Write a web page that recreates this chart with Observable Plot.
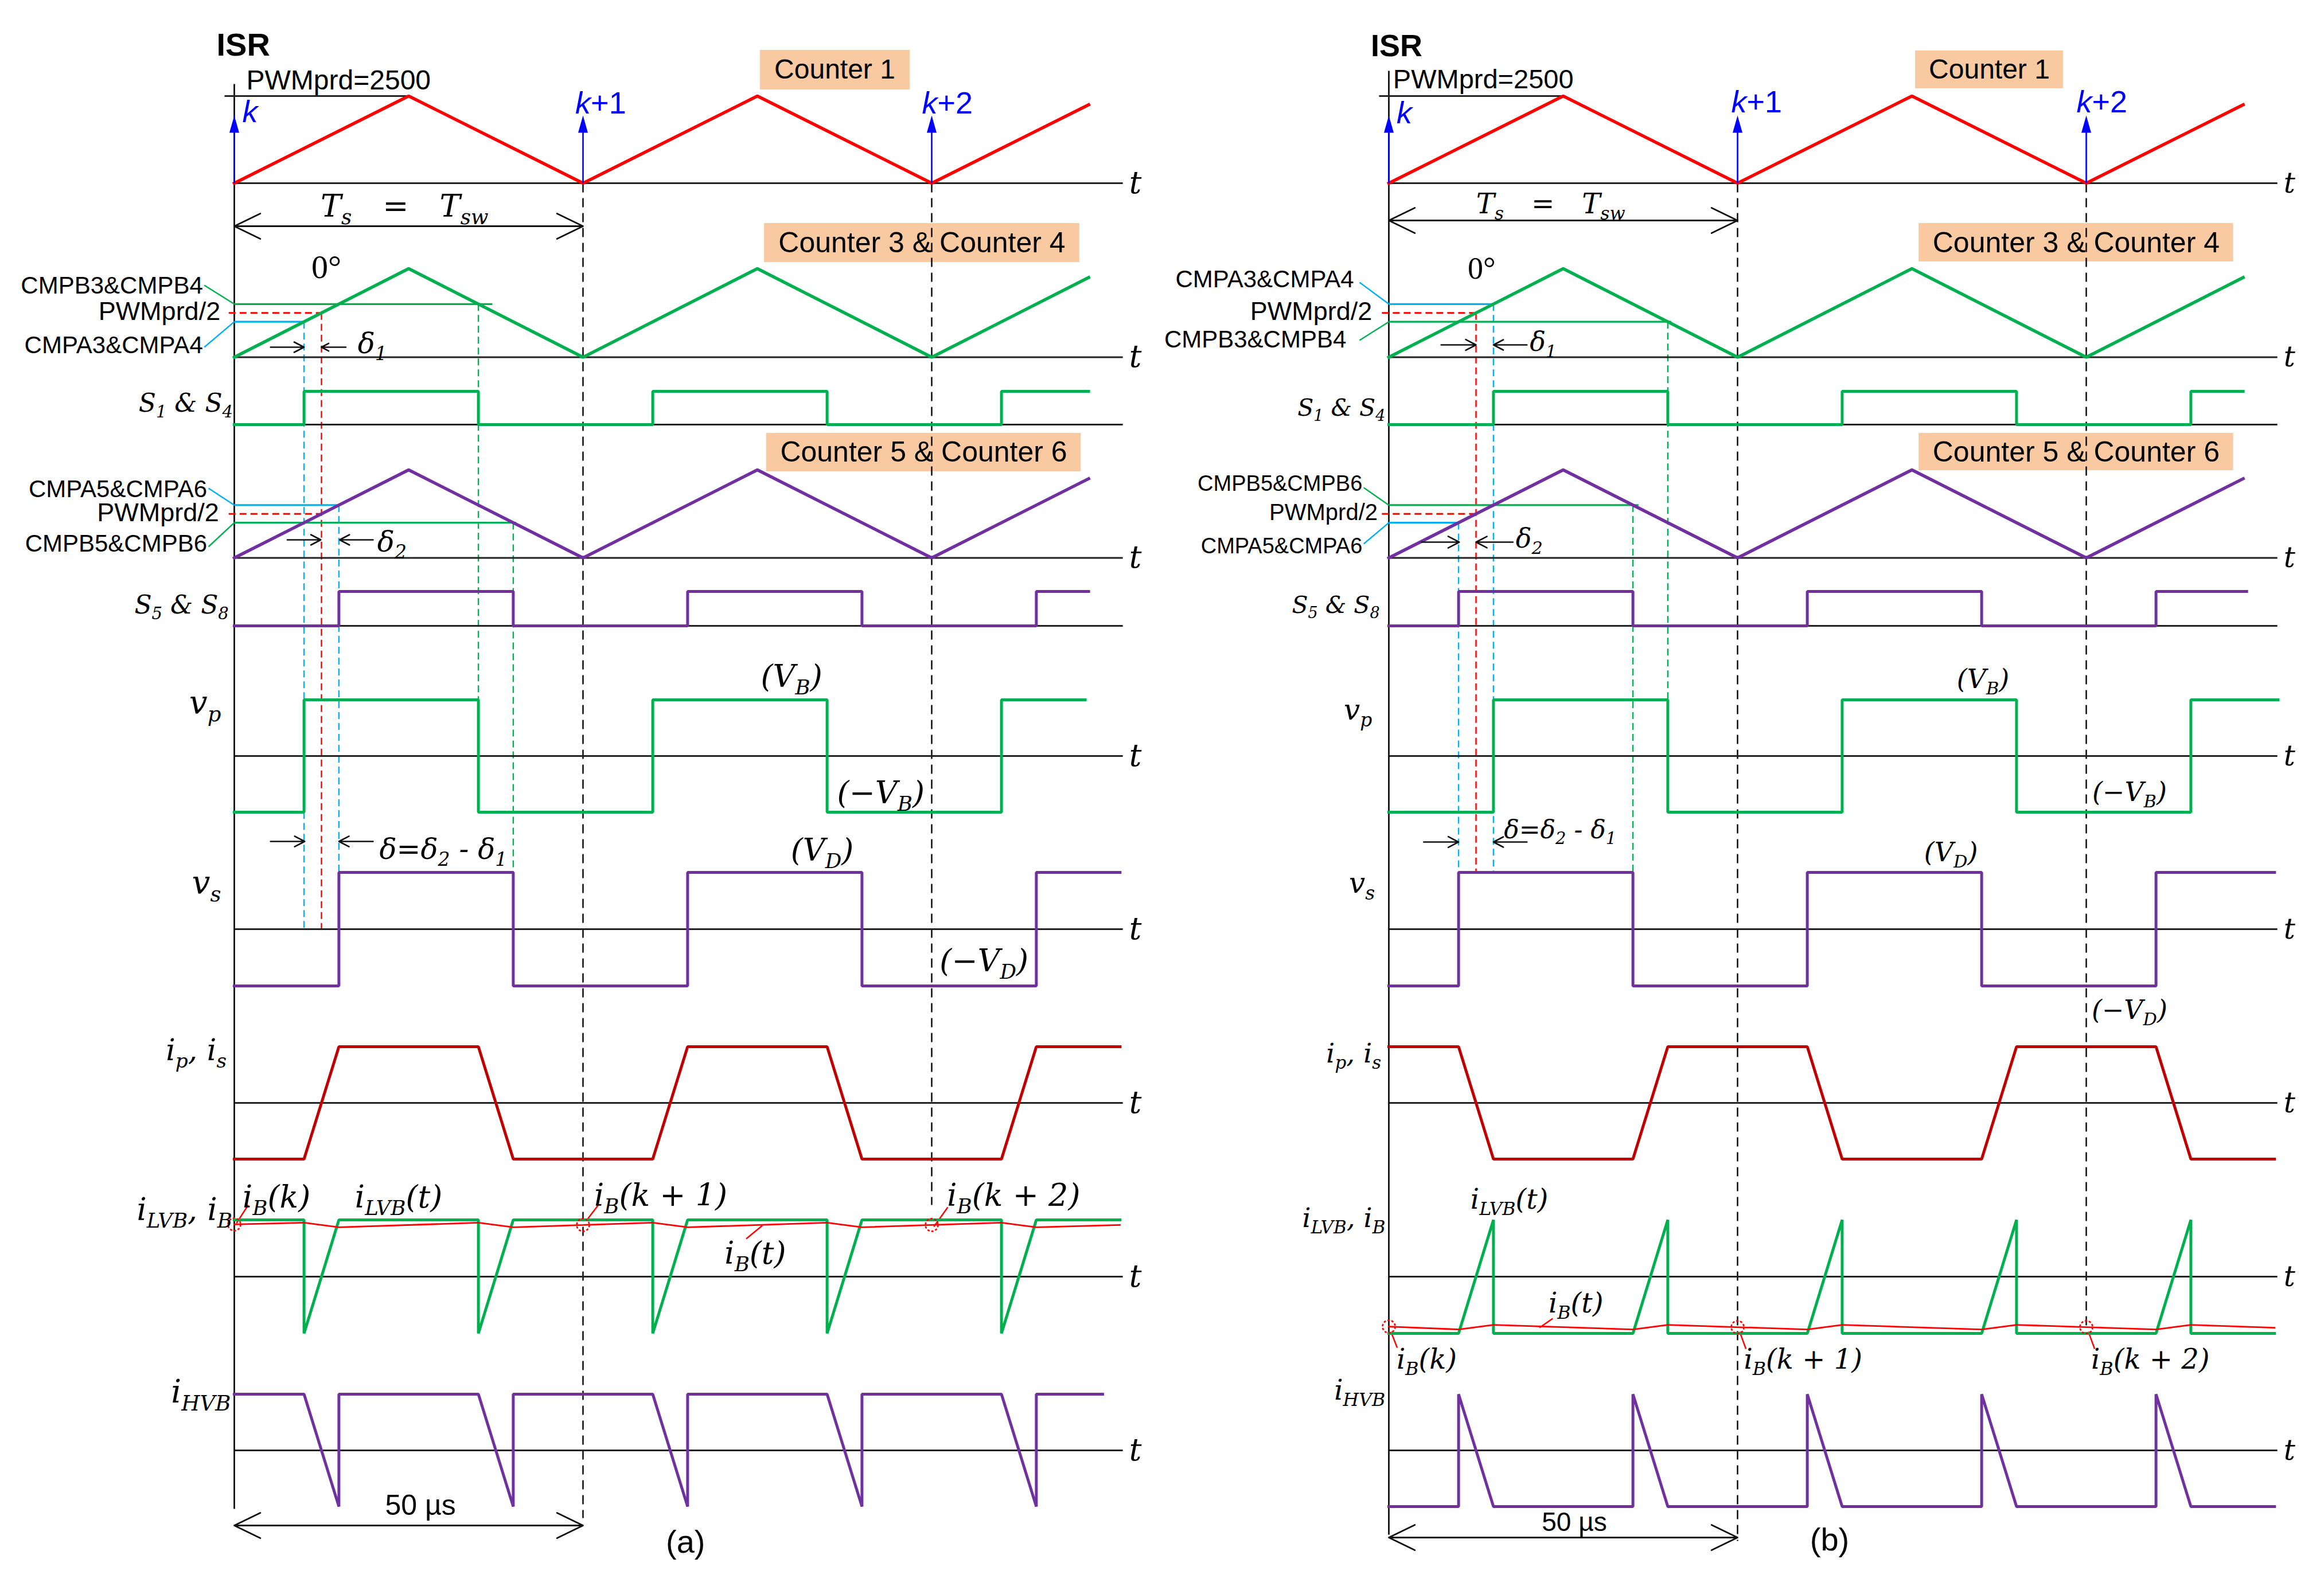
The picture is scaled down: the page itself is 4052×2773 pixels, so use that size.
<!DOCTYPE html>
<html>
<head>
<meta charset="utf-8">
<script src="https://cdn.jsdelivr.net/npm/d3@7"></script>
<script src="https://cdn.jsdelivr.net/npm/@observablehq/plot@0.6"></script>
<style>
  html, body { margin: 0; padding: 0; background: #fff; }
  #wrap { display: flex; width: 4052px; height: 2773px; overflow: hidden; }
  #wrap svg { flex: none; }
</style>
</head>
<body>
<div id="wrap"></div>
<script>
// ======================= DATA (time in µs, levels normalised) =======================
const PWMprd = 2500;
// triangular counter (Counter 1, Counter 3&4, Counter 5&6) : [t, count]
const carrier = [[0, 0], [25, 2500], [50, 0], [75, 2500], [100, 0], [122.5, 2250]];

// ---- panel (a) ----
const a_CMPA34 = 1000, a_CMPB34 = 1500, a_CMPA56 = 1500, a_CMPB56 = 1000;
const a_S14  = [[0,0],[10,0],[10,1],[35,1],[35,0],[60,0],[60,1],[85,1],[85,0],[110,0],[110,1],[122.5,1]];
const a_S58  = [[0,0],[15,0],[15,1],[40,1],[40,0],[65,0],[65,1],[90,1],[90,0],[115,0],[115,1],[122.5,1]];
const a_vp   = [[0,-1],[10,-1],[10,1],[35,1],[35,-1],[60,-1],[60,1],[85,1],[85,-1],[110,-1],[110,1],[122,1]];
const a_vs   = [[0,-1],[15,-1],[15,1],[40,1],[40,-1],[65,-1],[65,1],[90,1],[90,-1],[115,-1],[115,1],[127,1]];
const a_ip   = [[0,-1],[10,-1],[15,1],[35,1],[40,-1],[60,-1],[65,1],[85,1],[90,-1],[110,-1],[115,1],[127,1]];
const a_iLVB = [[0,1],[10,1],[10,-1],[15,1],[35,1],[35,-1],[40,1],[60,1],[60,-1],[65,1],[85,1],[85,-1],[90,1],[110,1],[110,-1],[115,1],[127,1]];
const a_iB   = [[0,0.92],[10,0.95],[15,0.87],[35,0.95],[40,0.87],[60,0.95],[65,0.87],[85,0.95],[90,0.87],[110,0.95],[115,0.87],[127,0.91]];
const a_iHVB = [[0,1],[10,1],[15,-1],[15,1],[35,1],[40,-1],[40,1],[60,1],[65,-1],[65,1],[85,1],[90,-1],[90,1],[110,1],[115,-1],[115,1],[124.5,1]];
const a_iBk  = [[0,0.92],[50,0.91],[100,0.91]];

// ---- panel (b) ----
const b_CMPA34 = 1500, b_CMPB34 = 1000, b_CMPA56 = 1000, b_CMPB56 = 1500;
const b_S14  = [[0,0],[15,0],[15,1],[40,1],[40,0],[65,0],[65,1],[90,1],[90,0],[115,0],[115,1],[122.5,1]];
const b_S58  = [[0,0],[10,0],[10,1],[35,1],[35,0],[60,0],[60,1],[85,1],[85,0],[110,0],[110,1],[123,1]];
const b_vp   = [[0,-1],[15,-1],[15,1],[40,1],[40,-1],[65,-1],[65,1],[90,1],[90,-1],[115,-1],[115,1],[127.5,1]];
const b_vs   = [[0,-1],[10,-1],[10,1],[35,1],[35,-1],[60,-1],[60,1],[85,1],[85,-1],[110,-1],[110,1],[127,1]];
const b_ip   = [[0,1],[10,1],[15,-1],[35,-1],[40,1],[60,1],[65,-1],[85,-1],[90,1],[110,1],[115,-1],[127,-1]];
const b_iLVB = [[0,-1],[10,-1],[15,1],[15,-1],[35,-1],[40,1],[40,-1],[60,-1],[65,1],[65,-1],[85,-1],[90,1],[90,-1],[110,-1],[115,1],[115,-1],[127,-1]];
const b_iB   = [[0,-0.88],[10,-0.93],[15,-0.85],[35,-0.93],[40,-0.85],[60,-0.93],[65,-0.85],[85,-0.93],[90,-0.85],[110,-0.93],[115,-0.85],[127,-0.9]];
const b_iHVB = [[0,-1],[10,-1],[10,1],[15,-1],[35,-1],[35,1],[40,-1],[60,-1],[60,1],[65,-1],[85,-1],[85,1],[90,-1],[110,-1],[110,1],[115,-1],[127,-1]];
const b_iBk  = [[0,-0.88],[50,-0.89],[100,-0.89]];

// sampling instants (ISR) and text labels
const isrTimes = [0, 50, 100];
const isrLabels = ["*k*", "*k*+1", "*k*+2"];

// ======================= LAYOUT =======================
const PX_PER_US = 12.16, ORIGIN = 408, H = 2773;
const RED = "#FF0000", GREEN = "#00B050", PURPLE = "#7030A0", DARKRED = "#C00000",
      CYAN = "#00B0F0", BLUE = "#0000FF", BOX = "#F9C9A2", INK = "#000";
// row baselines in layout units (1 unit = 100 px) and amplitude of full scale
const ROWS = {
  c1:   {base: 3.19,  amp: 1.52,  full: PWMprd},
  c3:   {base: 6.225, amp: 1.545, full: PWMprd},
  S14:  {base: 7.40,  amp: 0.58,  full: 1},
  c5:   {base: 9.725, amp: 1.535, full: PWMprd},
  S58:  {base: 10.91, amp: 0.60,  full: 1},
  vp:   {base: 13.18, amp: 0.98,  full: 1},
  vs:   {base: 16.20, amp: 0.99,  full: 1},
  ip:   {base: 19.23, amp: 0.98,  full: 1},
  iLVB: {base: 22.26, amp: 0.99,  full: 1},
  iHVB: {base: 25.29, amp: 0.98,  full: 1}
};
const Y = (row, v) => ROWS[row].base - v * ROWS[row].amp / ROWS[row].full;
const T_ROWS = ["c1", "c3", "c5", "vp", "vs", "ip", "iLVB", "iHVB"];
const BASE_ROWS = ["c1", "c3", "S14", "c5", "S58", "vp", "vs", "ip", "iLVB", "iHVB"];

const SANS = {fontFamily: "'Liberation Sans', Arial, sans-serif"};
const SANSB = {fontFamily: "'Liberation Sans', Arial, sans-serif", fontWeight: "bold"};
const MATH = {fontFamily: "'DejaVu Serif', 'Liberation Serif', serif", fontStyle: "italic"};
const SERIF = {fontFamily: "'Liberation Serif', 'Times New Roman', serif"};

const tx = (t, y, s, anchor, size, color = INK) => ({t, y, s, anchor, size, color});
const EM = "\u2003";

const PANELS = [
  {
    width: 2013, axisTop: 1.46, axisBottom: 26.31, tsY: 3.94, usY: 26.60,
    series: [["c1", carrier, RED], ["c3", carrier, GREEN], ["S14", a_S14, GREEN], ["c5", carrier, PURPLE],
             ["S58", a_S58, PURPLE], ["vp", a_vp, GREEN], ["vs", a_vs, PURPLE], ["ip", a_ip, DARKRED],
             ["iLVB", a_iLVB, GREEN], ["iHVB", a_iHVB, PURPLE]],
    iB: a_iB, iBk: a_iBk,
    blackDash: [[50, 26.47], [100, 21.01]],
    cmp: [["c3", a_CMPB34, 0, 37, GREEN], ["c3", PWMprd / 2, -0.8, 12.5, RED], ["c3", a_CMPA34, 0, 10, CYAN],
          ["c5", a_CMPA56, 0, 15, CYAN], ["c5", PWMprd / 2, -0.8, 12.5, RED], ["c5", a_CMPB56, 0, 40.4, GREEN]],
    guides: [[10, Y("c3", a_CMPA34), Y("vs", 0), CYAN], [12.5, Y("c3", PWMprd / 2), Y("vs", 0), RED],
             [15, Y("c5", a_CMPA56), Y("vs", 1), CYAN], [35, Y("c3", a_CMPB34), Y("vp", 1), GREEN],
             [40, Y("c5", a_CMPB56), Y("vs", -1), GREEN]],
    leaders: [[-4.3, 4.97, 0, Y("c3", a_CMPB34), GREEN], [-4.3, 6.05, 0, Y("c3", a_CMPA34), CYAN],
              [-3.7, 8.51, 0, Y("c5", a_CMPA56), CYAN], [-3.7, 9.53, 0, Y("c5", a_CMPB56), GREEN],
              [0.3, 21.33, 2.0, 21.01, RED], [50.5, 21.28, 52.2, 21.01, RED], [100.3, 21.39, 102.3, 21.05, RED],
              [73.4, 21.60, 75.7, 21.37, RED]],
    arrows: [[5.2, 6.05, 10, 6.05], [16, 6.05, 12.5, 6.05], [7.6, 9.41, 12.4, 9.41], [19.9, 9.41, 15.1, 9.41],
             [5.2, 14.67, 10.1, 14.67], [19.9, 14.67, 15.0, 14.67]],
    boxes: [[75.4, 96.9, 0.87, 1.56], [76.0, 121.2, 3.89, 4.57], [76.3, 121.4, 7.55, 8.22]],
    isrLab: [[1.15, 1.95], [48.9, 1.80], [98.6, 1.80]],
    sans: [tx(1.73, 1.40, "PWMprd=2500", "start", 48), tx(86.1, 1.21, "Counter 1", "middle", 48),
           tx(98.6, 4.23, "Counter 3 & Counter 4", "middle", 50), tx(98.85, 7.88, "Counter 5 & Counter 6", "middle", 50),
           tx(-4.5, 4.98, "CMPB3&CMPB4", "end", 42), tx(-2.0, 5.43, "PWMprd/2", "end", 45),
           tx(-4.5, 6.02, "CMPA3&CMPA4", "end", 42), tx(-3.9, 8.53, "CMPA5&CMPA6", "end", 42),
           tx(-2.2, 8.94, "PWMprd/2", "end", 45), tx(-3.9, 9.48, "CMPB5&CMPB6", "end", 42),
           tx(26.7, 26.25, "50 µs", "middle", 50), tx(64.7, 26.90, "(a)", "middle", 56)],
    bold: [tx(-2.55, 0.79, "ISR", "start", 56)],
    serif: [tx(13.2, 4.66, "0°", "middle", 58)],
    math: [tx(24.4, 3.60, "T_{s}" + EM + "=" + EM + "T_{sw}", "middle", 54), tx(17.7, 5.99, "δ_{1}", "start", 50),
           tx(20.5, 9.45, "δ_{2}", "start", 50), tx(20.8, 14.81, "δ=δ_{2} - δ_{1}", "start", 50),
           tx(-0.2, 7.03, "S_{1} & S_{4}", "end", 44), tx(-0.8, 10.55, "S_{5} & S_{8}", "end", 44),
           tx(-1.9, 12.26, "v_{p}", "end", 56), tx(-1.9, 15.40, "v_{s}", "end", 56),
           tx(-1.1, 18.32, "i_{p}, i_{s}", "end", 52), tx(-0.3, 21.10, "i_{LVB}, i_{B}", "end", 54),
           tx(-0.5, 24.28, "i_{HVB}", "end", 56),
           tx(79.9, 11.80, "(V_{B})", "middle", 54), tx(92.7, 13.83, "(−V_{B})", "middle", 54),
           tx(84.3, 14.83, "(V_{D})", "middle", 54), tx(107.5, 16.76, "(−V_{D})", "middle", 54),
           tx(1.2, 20.88, "i_{B}(k)", "start", 54), tx(17.3, 20.88, "i_{LVB}(t)", "start", 54),
           tx(51.6, 20.85, "i_{B}(k + 1)", "start", 54), tx(102.2, 20.85, "i_{B}(k + 2)", "start", 54),
           tx(70.3, 21.86, "i_{B}(t)", "start", 54)],
    tSize: 54
  },
  {
    width: 2039, axisTop: 1.23, axisBottom: 26.76, tsY: 3.84, usY: 26.81,
    series: [["c1", carrier, RED], ["c3", carrier, GREEN], ["S14", b_S14, GREEN], ["c5", carrier, PURPLE],
             ["S58", b_S58, PURPLE], ["vp", b_vp, GREEN], ["vs", b_vs, PURPLE], ["ip", b_ip, DARKRED],
             ["iLVB", b_iLVB, GREEN], ["iHVB", b_iHVB, PURPLE]],
    iB: b_iB, iBk: b_iBk,
    blackDash: [[50, 26.87], [100, 23.15]],
    cmp: [["c3", b_CMPA34, 0, 15, CYAN], ["c3", PWMprd / 2, -1, 12.5, RED], ["c3", b_CMPB34, 0, 40.5, GREEN],
          ["c5", b_CMPB56, 0, 35.8, GREEN], ["c5", PWMprd / 2, -1, 12.5, RED], ["c5", b_CMPA56, 0, 10, CYAN]],
    guides: [[15, Y("c3", b_CMPA34), Y("vs", 1), CYAN], [12.5, Y("c3", PWMprd / 2), Y("vs", 1), RED],
             [10, Y("c5", b_CMPA56), Y("vs", 1), CYAN], [40, Y("c3", b_CMPB34), Y("vp", 1), GREEN],
             [35, Y("c5", b_CMPB56), Y("vs", 1), GREEN]],
    leaders: [[-4.2, 4.92, 0, Y("c3", b_CMPA34), CYAN], [-4.2, 5.93, 0, Y("c3", b_CMPB34), GREEN],
              [-3.6, 8.50, 0, Y("c5", b_CMPB56), GREEN], [-3.6, 9.48, 0, Y("c5", b_CMPA56), CYAN],
              [0.3, 23.22, 1.2, 23.50, RED], [50.3, 23.22, 51.2, 23.52, RED], [100.3, 23.22, 101.2, 23.52, RED],
              [23.5, 22.99, 21.6, 23.15, RED]],
    arrows: [[7.5, 6.01, 12.5, 6.01], [19.8, 6.01, 15.0, 6.01], [4.7, 9.45, 10.1, 9.45], [17.8, 9.45, 12.5, 9.45],
             [5.0, 14.68, 10.0, 14.68], [19.8, 14.68, 15.0, 14.68]],
    boxes: [[75.5, 96.7, 0.88, 1.54], [76.0, 121.1, 3.89, 4.56], [76.0, 121.1, 7.55, 8.20]],
    isrLab: [[1.1, 1.97], [49.1, 1.78], [98.6, 1.78]],
    sans: [tx(0.6, 1.38, "PWMprd=2500", "start", 47), tx(86.1, 1.21, "Counter 1", "middle", 48),
           tx(98.55, 4.23, "Counter 3 & Counter 4", "middle", 50), tx(98.55, 7.88, "Counter 5 & Counter 6", "middle", 50),
           tx(-5.0, 4.87, "CMPA3&CMPA4", "end", 42), tx(-2.4, 5.43, "PWMprd/2", "end", 45),
           tx(-6.1, 5.92, "CMPB3&CMPB4", "end", 42), tx(-3.8, 8.43, "CMPB5&CMPB6", "end", 38),
           tx(-1.6, 8.94, "PWMprd/2", "end", 40), tx(-3.8, 9.52, "CMPA5&CMPA6", "end", 38),
           tx(26.6, 26.55, "50 µs", "middle", 46), tx(63.2, 26.86, "(b)", "middle", 56)],
    bold: [tx(-2.6, 0.80, "ISR", "start", 54)],
    serif: [tx(13.3, 4.68, "0°", "middle", 54)],
    math: [tx(23.2, 3.56, "T_{s}" + EM + "=" + EM + "T_{sw}", "middle", 48), tx(20.2, 5.97, "δ_{1}", "start", 46),
           tx(18.2, 9.40, "δ_{2}", "start", 46), tx(16.5, 14.47, "δ=δ_{2} - δ_{1}", "start", 44),
           tx(-0.5, 7.11, "S_{1} & S_{4}", "end", 41), tx(-1.3, 10.55, "S_{5} & S_{8}", "end", 41),
           tx(-2.4, 12.38, "v_{p}", "end", 50), tx(-2.0, 15.40, "v_{s}", "end", 50),
           tx(-1.1, 18.37, "i_{p}, i_{s}", "end", 47), tx(-0.5, 21.24, "i_{LVB}, i_{B}", "end", 47),
           tx(-0.5, 24.25, "i_{HVB}", "end", 48),
           tx(85.2, 11.85, "(V_{B})", "middle", 46), tx(106.2, 13.82, "(−V_{B})", "middle", 46),
           tx(80.6, 14.87, "(V_{D})", "middle", 46), tx(106.2, 17.62, "(−V_{D})", "middle", 46),
           tx(1.1, 23.71, "i_{B}(k)", "start", 48), tx(50.9, 23.71, "i_{B}(k + 1)", "start", 48),
           tx(100.7, 23.71, "i_{B}(k + 2)", "start", 48), tx(11.7, 20.92, "i_{LVB}(t)", "start", 48),
           tx(22.9, 22.73, "i_{B}(t)", "start", 48)],
    tSize: 50
  }
];

// ======================= DRAWING =======================
function textMarks(items, font) {
  return d3.groups(items, d => d.anchor + "|" + d.color).map(([, arr]) =>
    Plot.text(arr, {x: "t", y: "y", text: "s", fontSize: d => d.size, textAnchor: arr[0].anchor,
                    fill: arr[0].color, lineAnchor: "middle", ...font}));
}
const arrowHead = {draw(ctx) { ctx.moveTo(0, -15); ctx.lineTo(8.5, 15); ctx.lineTo(-8.5, 15); ctx.closePath(); }};

function drawPanel(P) {
  const x0 = -ORIGIN / PX_PER_US;
  const tEnd = 127.4;
  const marks = [];
  // label boxes
  marks.push(Plot.rect(P.boxes.map(([t1, t2, y1, y2]) => ({t1, t2, y1, y2})),
    {x1: "t1", x2: "t2", y1: "y1", y2: "y2", fill: BOX}));
  // black dashed sampling lines
  marks.push(Plot.link(P.blackDash.map(([t, y2]) => ({t, y1: ROWS.c1.base, y2})),
    {x1: "t", x2: "t", y1: "y1", y2: "y2", stroke: INK, strokeWidth: 2.4, strokeDasharray: "16,10"}));
  // coloured dashed guides
  for (const [t, y1, y2, c] of P.guides)
    marks.push(Plot.link([{t, y1, y2}], {x1: "t", x2: "t", y1: "y1", y2: "y2", stroke: c, strokeWidth: 2.4, strokeDasharray: "12,7"}));
  // time axes (baselines)
  marks.push(Plot.link(BASE_ROWS.map(r => ({y: ROWS[r].base})),
    {x1: () => 0, x2: () => tEnd, y1: "y", y2: "y", stroke: "#222", strokeWidth: 2.8}));
  // vertical axis
  marks.push(Plot.link([{y1: P.axisTop, y2: P.axisBottom}], {x1: () => 0, x2: () => 0, y1: "y1", y2: "y2", stroke: INK, strokeWidth: 2.6}));
  // PWMprd top line
  marks.push(Plot.link([{y: Y("c1", PWMprd)}], {x1: () => -1.4, x2: () => 25, y1: "y", y2: "y", stroke: "#222", strokeWidth: 2.8}));
  // compare levels
  for (const [row, v, t1, t2, c] of P.cmp)
    marks.push(Plot.link([{t1, t2, y: Y(row, v)}], {x1: "t1", x2: "t2", y1: "y", y2: "y", stroke: c,
      strokeWidth: c === RED ? 2.8 : 3.2, strokeDasharray: c === RED ? "12,7" : null}));
  // leader lines
  for (const [t1, y1, t2, y2, c] of P.leaders)
    marks.push(Plot.link([{t1, y1, t2, y2}], {x1: "t1", x2: "t2", y1: "y1", y2: "y2", stroke: c, strokeWidth: 2.4}));
  // waveforms
  for (const [row, pts, c] of P.series)
    marks.push(Plot.line(pts.map(([t, v]) => ({t, y: Y(row, v)})),
      {x: "t", y: "y", stroke: c, strokeWidth: row.startsWith("c") ? 5.5 : 5, strokeLinejoin: "miter", strokeLinecap: "square"}));
  // i_B(t)
  marks.push(Plot.line(P.iB.map(([t, v]) => ({t, y: Y("iLVB", v)})), {x: "t", y: "y", stroke: RED, strokeWidth: 2.8}));
  marks.push(Plot.dot(P.iBk.map(([t, v]) => ({t, y: Y("iLVB", v)})),
    {x: "t", y: "y", r: 11, stroke: RED, fill: "none", strokeWidth: 2.6, strokeDasharray: "4,3"}));
  // ISR arrows
  marks.push(Plot.link(isrTimes.map(t => ({t})), {x1: "t", x2: "t", y1: () => ROWS.c1.base, y2: () => 2.2, stroke: BLUE, strokeWidth: 2.6}));
  marks.push(Plot.dot(isrTimes.map(t => ({t})), {x: "t", y: () => 2.16, r: 10, symbol: arrowHead, fill: BLUE, stroke: "none"}));
  // double-headed span arrows (Ts and 50 µs)
  const spans = [[25, P.tsY, 0], [25, P.tsY, 50], [25, P.usY, 0], [25, P.usY, 50]];
  marks.push(Plot.arrow(spans.map(([m, y, e]) => ({x1: m, x2: e, y})),
    {x1: "x1", x2: "x2", y1: "y", y2: "y", stroke: "#111", strokeWidth: 2.8, headLength: 27, headAngle: 52}));
  // delta arrows
  marks.push(Plot.arrow(P.arrows.map(([x1, y1, x2, y2]) => ({x1, y1, x2, y2})),
    {x1: "x1", x2: "x2", y1: "y1", y2: "y2", stroke: "#111", strokeWidth: 2.6, headLength: 20, headAngle: 55}));
  // texts
  marks.push(...textMarks(P.sans, SANS));
  marks.push(...textMarks(P.bold, SANSB));
  marks.push(...textMarks(P.serif, SERIF));
  marks.push(...textMarks(P.math, MATH));
  marks.push(...textMarks(isrLabels.map((s, i) => tx(P.isrLab[i][0], P.isrLab[i][1], s, "start", 54, BLUE)), SANS));
  marks.push(...textMarks(T_ROWS.map(r => tx(128.3, ROWS[r].base, "t", "start", P.tSize)), MATH));

  return Plot.plot({
    width: P.width, height: H, margin: 0,
    x: {domain: [x0, x0 + P.width / PX_PER_US], axis: null},
    y: {domain: [0, H / 100], reverse: true, axis: null},
    style: {background: "white", overflow: "visible"},
    marks
  });
}

// rich text: _{...} subscript, *...* italic toggle
function parseRich(s) {
  const segs = []; let italic = false, buf = "", i = 0;
  const push = (sub) => { if (buf) segs.push({text: buf, sub, italic}); buf = ""; };
  while (i < s.length) {
    const c = s[i];
    if (c === "_" && s[i + 1] === "{") {
      push(false);
      const j = s.indexOf("}", i);
      buf = s.slice(i + 2, j); push(true);
      i = j + 1;
    } else if (c === "*") { push(false); italic = !italic; i++; }
    else { buf += c; i++; }
  }
  push(false);
  return segs;
}
function richify(svg) {
  const NS = "http://www.w3.org/2000/svg";
  svg.querySelectorAll("text").forEach(el => {
    const s = el.textContent;
    if (!/_\{|\*/.test(s)) return;
    const fs = parseFloat(getComputedStyle(el).fontSize) || 50;
    const segs = parseRich(s);
    while (el.firstChild) el.removeChild(el.firstChild);
    let inSub = false;
    for (const g of segs) {
      const ts = document.createElementNS(NS, "tspan");
      ts.textContent = g.text;
      if (g.sub && !inSub) ts.setAttribute("dy", (0.24 * fs).toFixed(1));
      if (!g.sub && inSub) ts.setAttribute("dy", (-0.24 * fs).toFixed(1));
      if (g.sub) ts.setAttribute("font-size", (0.66 * fs).toFixed(1));
      if (g.italic) ts.setAttribute("font-style", "italic");
      inSub = g.sub;
      el.appendChild(ts);
    }
  });
}

const wrap = document.getElementById("wrap");
for (const P of PANELS) {
  const svg = drawPanel(P);
  wrap.appendChild(svg);
  richify(svg);
}
</script>
</body>
</html>
